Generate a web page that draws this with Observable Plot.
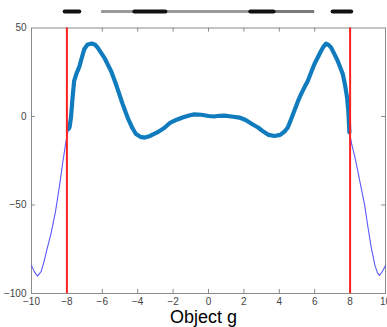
<!DOCTYPE html>
<html><head><meta charset="utf-8">
<script src="https://cdn.jsdelivr.net/npm/d3@7"></script>
<script src="https://cdn.jsdelivr.net/npm/@observablehq/plot@0.6"></script>
<style>
html,body{margin:0;padding:0;background:#fff;}
#wrap{width:387px;height:327px;overflow:hidden;}
#title{font-family:"Liberation Sans",Arial,sans-serif;font-size:18px;line-height:18px;margin-top:2px;text-align:center;color:#000;width:387px;padding-left:20px;box-sizing:border-box;}
svg{overflow:visible;display:block;}
</style></head><body><div id="wrap"><div id="chart"></div><div id="title">Object g</div></div>
<script>
// x tick labels and y tick labels
const xTicks = [-10, -8, -6, -4, -2, 0, 2, 4, 6, 8, 10];
const yTicks = [50, 0, -50, -100];
// cut-off markers
const cutoffs = [-8, 8];
// top segment bar
const segStart = [-8.10, -6.04, -4.16, -2.41, 2.39, 3.70, 7.04];
const segEnd   = [-7.27, -4.16, -2.41, 2.39, 3.70, 6.00, 8.09];
const segKind  = ["on", "off", "on", "off", "on", "mid", "on"];
// thick measured curve (inside cut-offs)
const innerX = [-7.90,-7.85,-7.77,-7.68,-7.59,-7.45,-7.30,-7.21,-7.02,-6.85,-6.60,-6.40,-6.26,-5.89,-5.51,-5.23,-4.85,-4.57,-4.30,-4.10,-3.85,-3.60,-3.30,-2.90,-2.50,-2.20,-1.80,-1.46,-1.10,-0.80,-0.40,0.00,0.30,0.60,0.90,1.30,1.74,2.10,2.50,2.80,3.10,3.40,3.72,4.05,4.30,4.48,4.65,4.85,5.05,5.23,5.42,5.61,5.80,5.98,6.18,6.36,6.50,6.64,6.80,6.93,7.10,7.30,7.45,7.59,7.72,7.83,7.90,7.92,7.96];
const innerY = [-6.9,-6.0,-0.6,10.7,20.1,24.5,28.0,31.4,38.0,40.5,41.2,40.5,38.9,33.3,25.8,18.3,7.0,-0.6,-6.5,-9.9,-11.5,-11.9,-11.0,-9.0,-6.5,-3.8,-1.8,-0.6,0.6,1.2,1.0,0.3,0.0,0.4,0.5,0.0,-0.6,-2.0,-4.5,-6.2,-8.5,-10.4,-11.0,-10.4,-8.5,-6.2,-2.0,3.2,8.5,12.6,16.5,20.1,25.0,29.5,33.5,37.0,39.5,41.2,40.3,38.9,35.5,31.4,27.5,23.9,17.5,10.7,3.0,-0.6,-9.0];
// thin fitted curve tails (outside cut-offs)
const leftX = [-10.0,-9.85,-9.66,-9.45,-9.28,-9.10,-8.90,-8.65,-8.43,-8.25,-8.06,-7.95];
const leftY = [-84.2,-87.5,-90.2,-87.5,-81.4,-74.0,-66.3,-54.0,-40.0,-27.0,-14.6,-9.0];
const rightX = [8.09,8.25,8.43,8.62,8.81,9.00,9.19,9.40,9.55,9.66,9.80,10.0];
const rightY = [-15.6,-22.0,-30.6,-40.0,-49.4,-62.0,-73.8,-84.0,-88.5,-89.8,-88.0,-84.2];

const inner = innerX.map((x, i) => ({x, y: innerY[i]}));
const thin = [
  ...leftX.map((x, i) => ({x, y: leftY[i]})),
  ...inner,
  ...rightX.map((x, i) => ({x, y: rightY[i]}))
];
const segs = segStart.map((s, i) => ({x1: s, x2: segEnd[i], kind: segKind[i]}));
const segColor = k => k === "on" ? "#111" : k === "mid" ? "#7a7a7a" : "#9a9a9a";
const segWidth = k => k === "on" ? 4 : 3;

const BAR_Y = 59.3;
const frameColor = "#8a8a8a";
const tickLenY = 2.3;   // data units (~4px)
const tickLenX = 0.22;

const chart = Plot.plot({
  width: 387,
  height: 306,
  marginLeft: 31,
  marginRight: 2,
  marginTop: 27.5,
  marginBottom: 13,
  style: {fontFamily: "'Liberation Sans Narrow','Liberation Sans',Arial,sans-serif", fontSize: "10px", color: "#444", background: "#fff"},
  x: {domain: [-10, 10], label: null},
  y: {domain: [-100, 50], label: null},
  marks: [
    Plot.frame({stroke: frameColor}),
    // inward ticks on all four edges
    Plot.ruleX(xTicks.slice(1, -1), {x: d => d, y1: -100, y2: -100 + tickLenY, stroke: frameColor}),
    Plot.ruleX(xTicks.slice(1, -1), {x: d => d, y1: 50, y2: 50 - tickLenY, stroke: frameColor}),
    Plot.ruleY(yTicks.slice(1, -1), {y: d => d, x1: -10, x2: -10 + tickLenX, stroke: frameColor}),
    Plot.ruleY(yTicks.slice(1, -1), {y: d => d, x1: 10, x2: 10 - tickLenX, stroke: frameColor}),
    Plot.axisX(xTicks, {tickSize: 0, tickPadding: 4, fill: "#444", label: null}),
    Plot.axisY(yTicks, {tickSize: 0, tickPadding: 5, fill: "#444", label: null}),
    Plot.line(thin, {x: "x", y: "y", stroke: "#5a5aff", strokeWidth: 1.1}),
    Plot.line(inner, {x: "x", y: "y", stroke: "#107cbd", strokeWidth: 4.2, strokeLinejoin: "round", strokeLinecap: "round"}),
    Plot.ruleX(cutoffs, {x: d => d, stroke: "#ff2020", strokeWidth: 2}),
    Plot.ruleY(segs.filter(d => d.kind !== "on"), {y: () => BAR_Y, x1: "x1", x2: "x2", stroke: d => segColor(d.kind), strokeWidth: d => segWidth(d.kind)}),
    Plot.ruleY(segs.filter(d => d.kind === "on"), {y: () => BAR_Y, x1: "x1", x2: "x2", stroke: d => segColor(d.kind), strokeWidth: d => segWidth(d.kind), strokeLinecap: "round"})
  ]
});
document.getElementById("chart").appendChild(chart);
</script></body></html>
